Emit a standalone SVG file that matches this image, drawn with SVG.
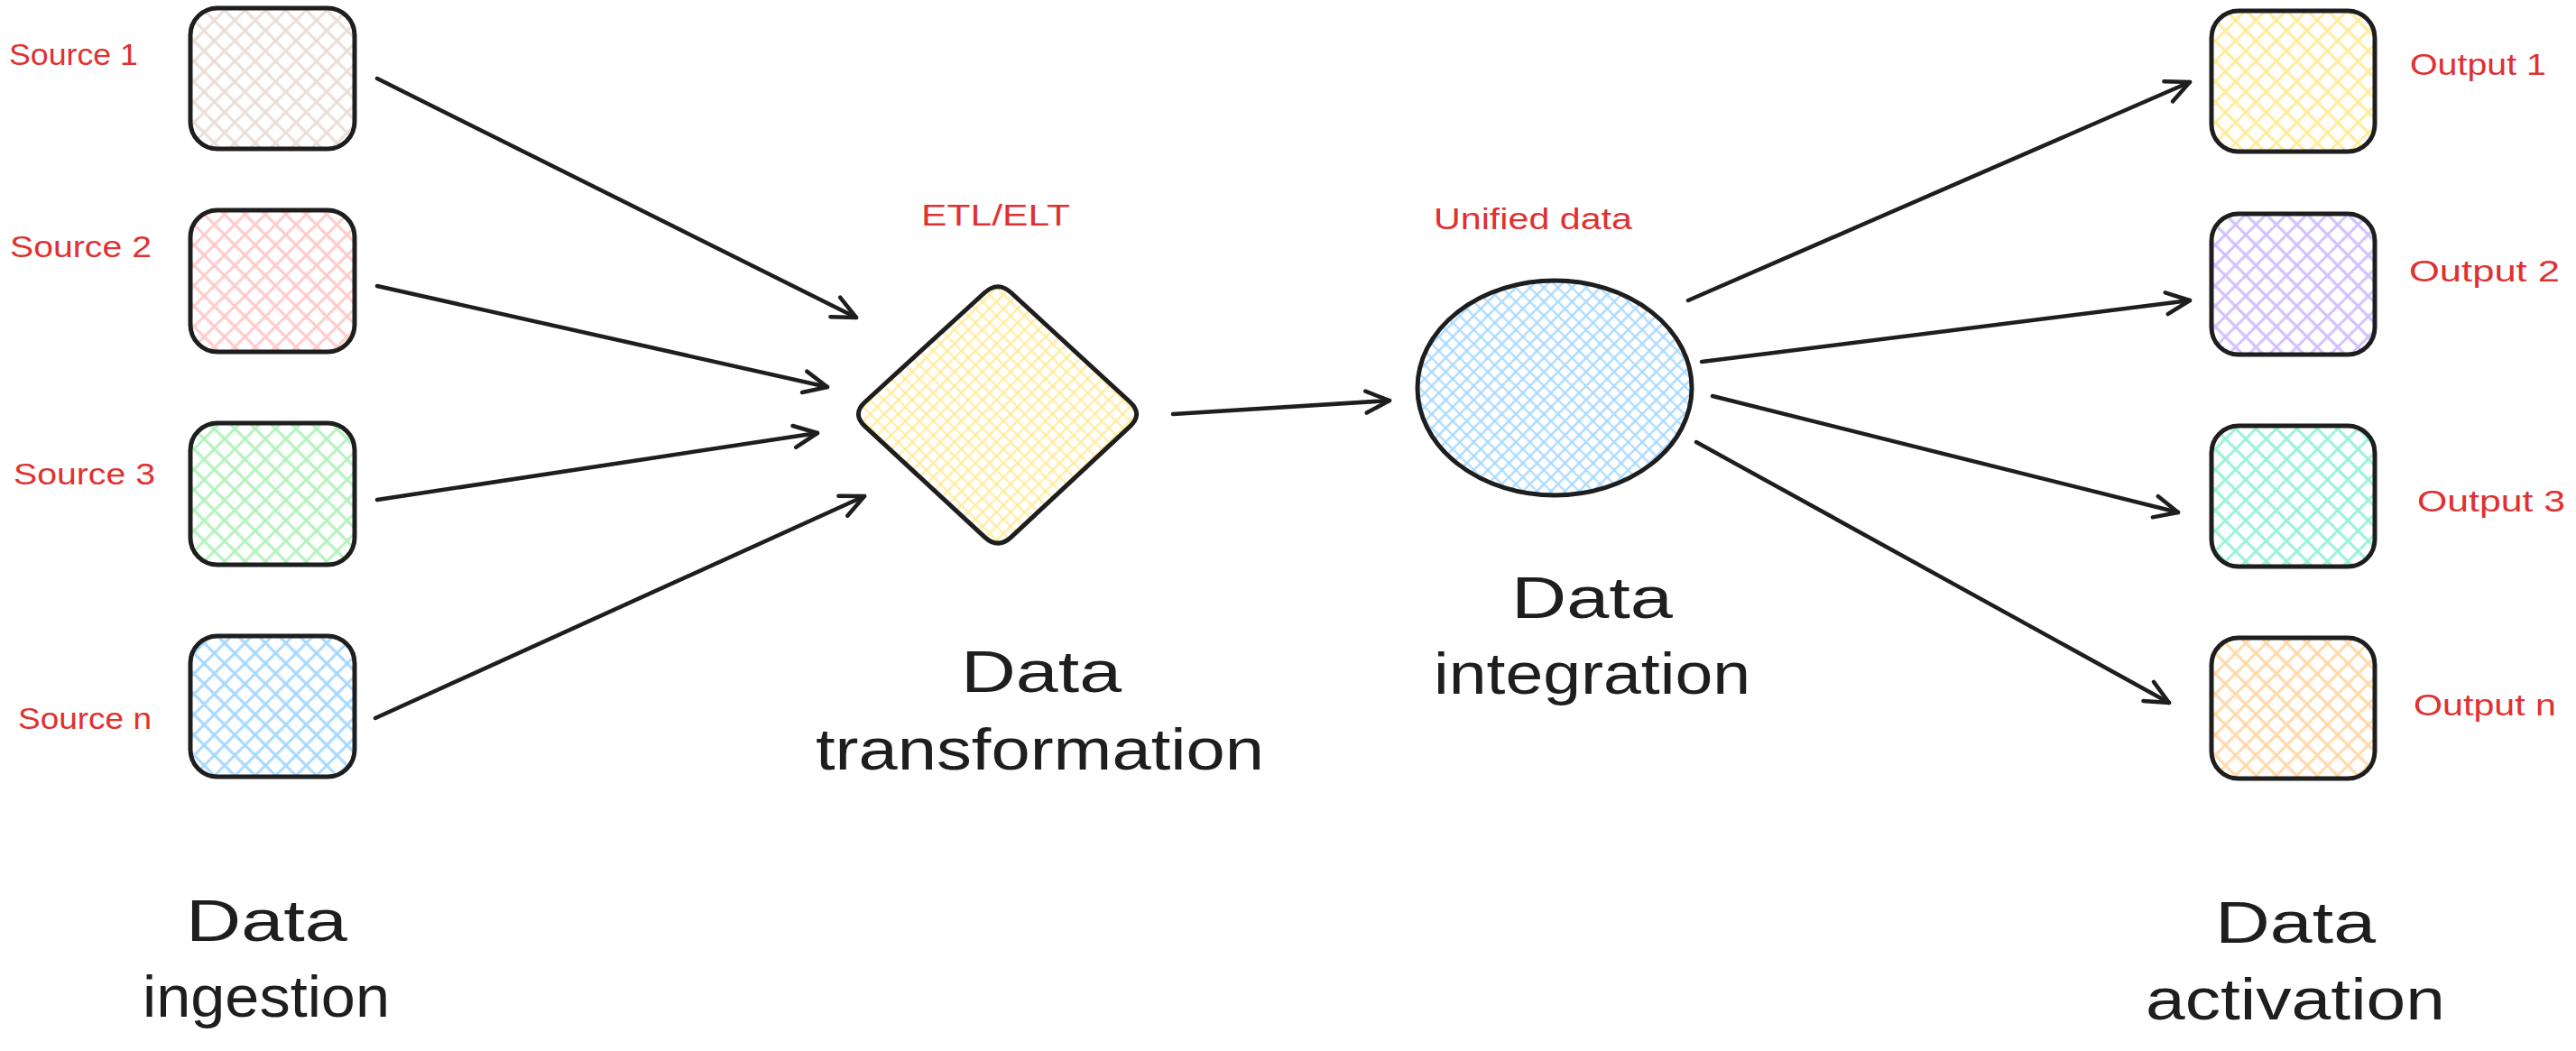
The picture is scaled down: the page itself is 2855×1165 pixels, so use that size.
<svg xmlns="http://www.w3.org/2000/svg" width="2855" height="1165" viewBox="0 0 2855 1165">
<style>
.box{stroke:#1e1e1e;stroke-width:5;stroke-linejoin:round}
.lbl{font-family:"Liberation Sans","DejaVu Sans",sans-serif;font-size:34px;fill:#e03131}
.big{font-family:"Liberation Sans","DejaVu Sans",sans-serif;font-size:64px;fill:#1e1e1e}
.conn line{stroke:#1e1e1e;stroke-width:4.5;stroke-linecap:round;fill:none}
</style>
<defs>
<pattern id="hBeige" width="16" height="16" patternUnits="userSpaceOnUse" patternTransform="rotate(45)"><path d="M0 8H16M8 0V16" stroke="#eaddd7" stroke-width="2.8"/></pattern>
<pattern id="hPink" width="16" height="16" patternUnits="userSpaceOnUse" patternTransform="rotate(45)"><path d="M0 8H16M8 0V16" stroke="#ffc9c9" stroke-width="2.8"/></pattern>
<pattern id="hGreen" width="16" height="16" patternUnits="userSpaceOnUse" patternTransform="rotate(45)"><path d="M0 8H16M8 0V16" stroke="#b2f2bb" stroke-width="2.8"/></pattern>
<pattern id="hBlue" width="16" height="16" patternUnits="userSpaceOnUse" patternTransform="rotate(45)"><path d="M0 8H16M8 0V16" stroke="#a5d8ff" stroke-width="2.8"/></pattern>
<pattern id="hYellow" width="16" height="16" patternUnits="userSpaceOnUse" patternTransform="rotate(45)"><path d="M0 8H16M8 0V16" stroke="#ffec99" stroke-width="2.8"/></pattern>
<pattern id="hViolet" width="16" height="16" patternUnits="userSpaceOnUse" patternTransform="rotate(45)"><path d="M0 8H16M8 0V16" stroke="#d0bfff" stroke-width="2.8"/></pattern>
<pattern id="hTeal" width="16" height="16" patternUnits="userSpaceOnUse" patternTransform="rotate(45)"><path d="M0 8H16M8 0V16" stroke="#96f2d7" stroke-width="2.8"/></pattern>
<pattern id="hOrange" width="16" height="16" patternUnits="userSpaceOnUse" patternTransform="rotate(45)"><path d="M0 8H16M8 0V16" stroke="#ffd8a8" stroke-width="2.8"/></pattern>
<pattern id="hYellowFine" width="11" height="11" patternUnits="userSpaceOnUse" patternTransform="rotate(45)"><path d="M0 5.5H11M5.5 0V11" stroke="#ffec99" stroke-width="2.2"/></pattern>
<pattern id="hBlueFine" width="11" height="11" patternUnits="userSpaceOnUse" patternTransform="rotate(45)"><path d="M0 5.5H11M5.5 0V11" stroke="#a5d8ff" stroke-width="2.2"/></pattern>
<marker id="arr" markerUnits="userSpaceOnUse" markerWidth="40" markerHeight="40" viewBox="-35 -20 40 40" refX="0" refY="0" orient="auto" overflow="visible">
<path d="M-26 -12L0 0L-26 12" fill="none" stroke="#1e1e1e" stroke-width="4.5" stroke-linecap="round" stroke-linejoin="round"/>
</marker>
</defs>
<rect width="2855" height="1165" fill="#ffffff"/>

<g id="connectors" class="conn">
<line x1="418" y1="87" x2="949" y2="352" marker-end="url(#arr)"/>
<line x1="418" y1="317" x2="917" y2="429" marker-end="url(#arr)"/>
<line x1="418" y1="554" x2="906" y2="480" marker-end="url(#arr)"/>
<line x1="416" y1="796" x2="958" y2="550" marker-end="url(#arr)"/>
<line x1="1300" y1="459" x2="1540" y2="444" marker-end="url(#arr)"/>
<line x1="1871" y1="333" x2="2427" y2="91" marker-end="url(#arr)"/>
<line x1="1886" y1="401" x2="2427" y2="333" marker-end="url(#arr)"/>
<line x1="1898" y1="439" x2="2414" y2="568" marker-end="url(#arr)"/>
<line x1="1880" y1="490" x2="2404" y2="779" marker-end="url(#arr)"/>
</g>

<g id="source-1"><rect class="box" x="211" y="9" width="182" height="156" rx="30" fill="url(#hBeige)"/><text class="lbl" x="10" y="72" textLength="143" lengthAdjust="spacingAndGlyphs">Source 1</text></g>
<g id="source-2"><rect class="box" x="211" y="233" width="182" height="157" rx="30" fill="url(#hPink)"/><text class="lbl" x="11" y="285" textLength="157" lengthAdjust="spacingAndGlyphs">Source 2</text></g>
<g id="source-3"><rect class="box" x="211" y="469" width="182" height="157" rx="30" fill="url(#hGreen)"/><text class="lbl" x="15" y="537" textLength="157" lengthAdjust="spacingAndGlyphs">Source 3</text></g>
<g id="source-n"><rect class="box" x="211" y="705" width="182" height="156" rx="30" fill="url(#hBlue)"/><text class="lbl" x="20" y="808" textLength="148" lengthAdjust="spacingAndGlyphs">Source n</text></g>

<g id="transformation">
<path class="box" fill="url(#hYellowFine)" d="M958.8 445.5L1091.2 324.5Q1106 311 1120.7 324.5L1252.3 445.5Q1267 459 1252.4 472.6L1120.7 595.4Q1106 609 1091.3 595.4L958.7 472.6Q944 459 958.8 445.5Z"/>
<text class="lbl" x="1021" y="250" textLength="165" lengthAdjust="spacingAndGlyphs">ETL/ELT</text>
<text class="big" x="1065" y="767" textLength="178" lengthAdjust="spacingAndGlyphs">Data</text>
<text class="big" x="904" y="853" textLength="497" lengthAdjust="spacingAndGlyphs">transformation</text>
</g>

<g id="integration">
<ellipse class="box" cx="1723" cy="430" rx="152" ry="119" fill="url(#hBlueFine)"/>
<text class="lbl" x="1589" y="254" textLength="220" lengthAdjust="spacingAndGlyphs">Unified data</text>
<text class="big" x="1675" y="685" textLength="179" lengthAdjust="spacingAndGlyphs">Data</text>
<text class="big" x="1589" y="769" textLength="351" lengthAdjust="spacingAndGlyphs">integration</text>
</g>

<g id="output-1"><rect class="box" x="2451" y="12" width="181" height="156" rx="30" fill="url(#hYellow)"/><text class="lbl" x="2671" y="83" textLength="151" lengthAdjust="spacingAndGlyphs">Output 1</text></g>
<g id="output-2"><rect class="box" x="2451" y="237" width="181" height="156" rx="30" fill="url(#hViolet)"/><text class="lbl" x="2670" y="312" textLength="167" lengthAdjust="spacingAndGlyphs">Output 2</text></g>
<g id="output-3"><rect class="box" x="2451" y="472" width="181" height="156" rx="30" fill="url(#hTeal)"/><text class="lbl" x="2679" y="567" textLength="164" lengthAdjust="spacingAndGlyphs">Output 3</text></g>
<g id="output-n"><rect class="box" x="2451" y="707" width="181" height="156" rx="30" fill="url(#hOrange)"/><text class="lbl" x="2675" y="793" textLength="158" lengthAdjust="spacingAndGlyphs">Output n</text></g>

<g id="ingestion-label">
<text class="big" x="206" y="1043" textLength="179" lengthAdjust="spacingAndGlyphs">Data</text>
<text class="big" x="158" y="1127" textLength="274" lengthAdjust="spacingAndGlyphs">ingestion</text>
</g>
<g id="activation-label">
<text class="big" x="2455" y="1045" textLength="178" lengthAdjust="spacingAndGlyphs">Data</text>
<text class="big" x="2378" y="1130" textLength="332" lengthAdjust="spacingAndGlyphs">activation</text>
</g>
</svg>
